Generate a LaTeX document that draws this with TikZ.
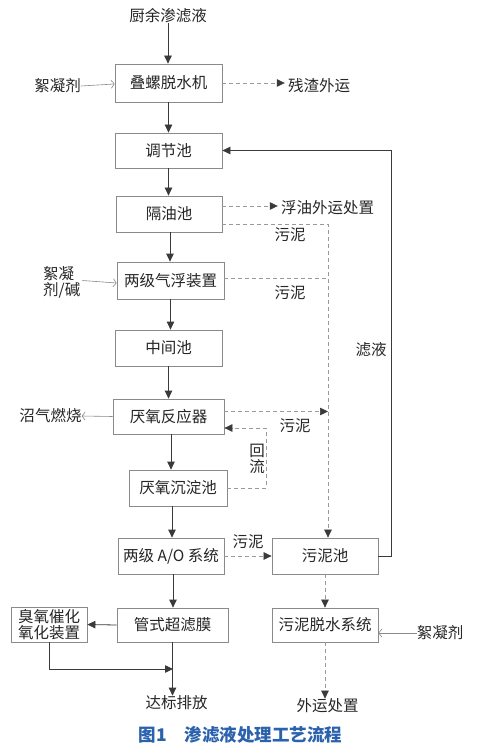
\documentclass[tikz,border=0pt]{standalone}
\usepackage{fontspec}
\setmainfont{Noto Sans CJK SC}
\usetikzlibrary{arrows.meta}
\definecolor{boxc}{HTML}{8A8A8A}
\definecolor{arrc}{HTML}{3A3A3A}
\definecolor{dshc}{HTML}{9A9A9A}
\definecolor{txtc}{HTML}{262626}
\definecolor{capc}{HTML}{2B62AE}
\begin{document}
\begin{tikzpicture}[x=1pt,y=-1pt,
  box/.style={draw=boxc, line width=0.8pt, inner sep=0pt, text=txtc, font=\fontsize{15.5}{16}\selectfont},
  lbl/.style={inner sep=0pt, text=txtc, font=\fontsize{15.5}{16}\selectfont},
  arr/.style={draw=arrc, line width=0.8pt, -{Triangle[length=8pt,width=7.5pt]}},
  openarr/.style={draw=boxc, line width=0.6pt, -{Straight Barb[length=3pt,width=8pt]}},
  dsh/.style={draw=dshc, line width=0.7pt, dash pattern=on 4pt off 3pt},
  darr/.style={dsh, -{Triangle[length=8pt,width=7.5pt,color=arrc,fill=arrc]}}
]
\useasboundingbox[fill=white] (0,0) rectangle (480,751);

% boxes
\node[box, minimum width=107, minimum height=38] (b1) at (168.5,83) {叠螺脱水机};
\node[box, minimum width=107, minimum height=35] (b2) at (168.5,150.5) {调节池};
\node[box, minimum width=106, minimum height=36] (b3) at (169,214) {隔油池};
\node[box, minimum width=107, minimum height=37] (b4) at (170.5,280.5) {两级气浮装置};
\node[box, minimum width=107, minimum height=36] (b5) at (168.5,348) {中间池};
\node[box, minimum width=111, minimum height=35] (b6) at (168.5,416.5) {厌氧反应器};
\node[box, minimum width=98, minimum height=36] (b7) at (178,488) {厌氧沉淀池};
\node[box, minimum width=106, minimum height=36] (b8) at (171,556) {两级 A/O 系统};
\node[box, minimum width=106, minimum height=36] (b9) at (325,556) {污泥池};
\node[box, minimum width=111, minimum height=34] (b10) at (172.5,625) {管式超滤膜};
\node[box, minimum width=106, minimum height=34] (b11) at (325,625) {污泥脱水系统};
\node[box, minimum width=76, minimum height=35, align=center] (b12) at (49,624.5) {臭氧催化\\氧化装置};

% free texts
\node[lbl] (ttop) at (168,16) {厨余渗滤液};
\node[lbl] (txn1) at (57.5,86) {絮凝剂};
\node[lbl] (tcz) at (319,86) {残渣外运};
\node[lbl] (tfy) at (327.5,208) {浮油外运处置};
\node[lbl, align=left, anchor=west] (txn2) at (43,282.5) {絮凝\\剂/碱};
\node[lbl] (tzq) at (50.5,416) {沼气燃烧};
\node[lbl] (tdb) at (176.5,703) {达标排放};
\node[lbl] (twy) at (327.5,706) {外运处置};
\node[lbl] (txn3) at (440,633) {絮凝剂};
\node[lbl] (tw1) at (290,235) {污泥};
\node[lbl] (tw2) at (290,293) {污泥};
\node[lbl] (tw3) at (295,426) {污泥};
\node[lbl] (tw4) at (248,542) {污泥};
\node[lbl] (tly) at (371,350) {滤液};
\node[lbl, align=center] (thl) at (257,458.5) {回\\流};
\node[inner sep=0pt, text=capc, font=\fontsize{17.5}{18}\selectfont\bfseries] (cap) at (240.5,735) {图1\hspace{1em}渗滤液处理工艺流程};

\coordinate (sc) at (328,0);
\coordinate (jn) at (173,669);

% main flow
\draw[arr] (ttop.south) -- (ttop.south |- b1.north);
\draw[arr] (b1.south) -- (b1.south |- b2.north);
\draw[arr] (b2.south) -- (b2.south |- b3.north);
\draw[arr] ([xshift=1pt]b3.south) -- ([xshift=1pt]b3.south |- b4.north);
\draw[arr] (b4.south) -- (b4.south |- b5.north);
\draw[arr] (b5.south) -- (b5.south |- b6.north);
\draw[arr] ([xshift=2.5pt]b6.south) -- ([xshift=2.5pt]b6.south |- b7.north);
\draw[arr] ([xshift=1pt]b8.north |- b7.south) -- ([xshift=1pt]b8.north);
\draw[arr] ([xshift=2pt]b8.south) -- ([xshift=2pt]b8.south |- b10.north);
\draw[arr] (b10.south) -- (b10.south |- tdb.north);
\draw[arr] (b10.west) -- (b12.east);
\draw[arr] (b12.south) |- (jn);

% inputs / outputs
\draw[openarr] (txn1.east) -- ([yshift=-1pt]b1.west);
\draw[openarr] ([xshift=2pt]txn2.east |- b4.west) -- ([yshift=-2.5pt]b4.west);
\draw[openarr] (b6.west) -- (tzq.east);
\draw[openarr] (txn3.west |- 0,633) -- ([yshift=-8pt]b11.east);

% filtrate return
\draw[arr] (b9.east) -- ++(13,0) |- (b2.east);

% dashed
\draw[darr] (b1.east) -- ([xshift=-3pt]tcz.west |- b1.east);
\draw[darr] ([yshift=8pt]b3.east) -- ([xshift=-3pt]tfy.west |- 0,206);
\draw[darr] ([yshift=-10pt]b3.east) -| ([xshift=3pt]b9.north);
\draw[dsh] ([yshift=2.5pt]b4.east) -- ([yshift=2.5pt]b4.east -| sc);
\draw[darr] ([yshift=5pt]b6.east) -- ([yshift=5pt]b6.east -| sc);
\draw[darr] (b7.east) -- ++(39,0) |- ([yshift=-11.5pt]b6.east);
\draw[darr] (b8.east) -- (b9.west);
\draw[darr] (b9.south) -- (b11.north);
\draw[darr] (b11.south) -- (b11.south |- twy.north);
\end{tikzpicture}
\end{document}
